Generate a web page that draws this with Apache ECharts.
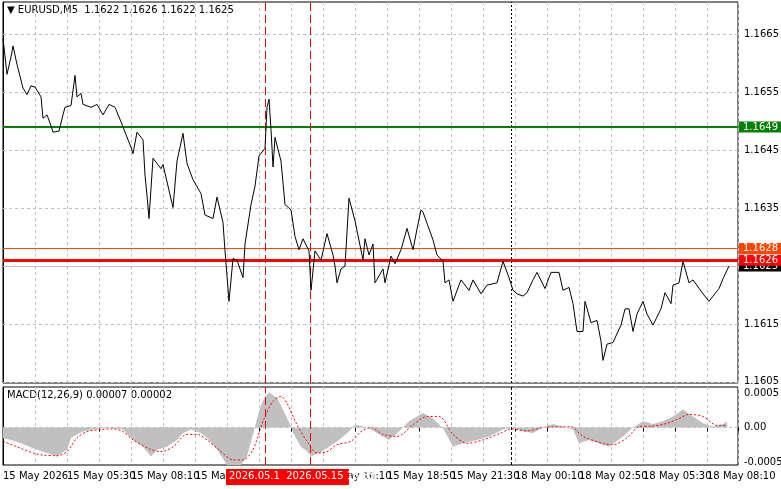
<!DOCTYPE html>
<html><head><meta charset="utf-8">
<script src="https://cdn.jsdelivr.net/npm/echarts@6/dist/echarts.min.js"></script>
<style>html,body{margin:0;padding:0;background:#fff}#c{width:781px;height:489px}</style>
</head><body><div id="c"></div>
<script>
// [bar index, close price]
const price = [[0,1.16643],[2,1.16581],[4,1.16611],[5,1.16630],[7,1.16598],[10,1.16557],[12,1.16546],[14,1.16561],[16,1.16559],[19,1.16542],[20,1.16505],[22,1.16511],[24,1.16492],[25,1.16481],[28,1.16483],[30,1.16511],[31,1.16524],[34,1.16527],[36,1.16579],[37,1.16542],[39,1.16548],[40,1.16529],[44,1.16524],[47,1.16529],[50,1.16511],[53,1.16529],[56,1.16524],[59,1.16499],[61,1.16481],[64,1.16455],[65,1.16444],[67,1.16481],[70,1.16468],[71,1.16407],[72,1.16371],[73,1.16332],[75,1.16436],[79,1.16418],[80,1.16425],[85,1.16351],[87,1.16431],[90,1.16479],[92,1.16427],[95,1.16399],[99,1.16375],[101,1.16338],[105,1.16332],[107,1.16369],[110,1.16325],[111,1.16276],[113,1.16189],[115,1.16263],[117,1.16260],[120,1.16230],[121,1.16288],[124,1.16356],[126,1.16388],[128,1.16440],[131,1.16453],[132,1.16524],[133,1.16538],[134,1.16486],[135,1.16421],[136,1.16472],[139,1.16431],[141,1.16356],[144,1.16347],[146,1.16301],[148,1.16278],[150,1.16297],[153,1.16276],[154,1.16208],[156,1.16276],[159,1.16260],[162,1.16306],[165,1.16269],[166,1.16250],[167,1.16221],[169,1.16245],[171,1.16250],[173,1.16367],[176,1.16328],[180,1.16260],[181,1.16297],[183,1.16269],[185,1.16288],[186,1.16221],[190,1.16245],[191,1.16221],[194,1.16267],[196,1.16254],[199,1.16278],[202,1.16315],[205,1.16278],[207,1.16314],[209,1.16347],[210,1.16343],[215,1.16295],[217,1.16269],[220,1.16258],[221,1.16221],[223,1.16226],[225,1.16189],[229,1.16226],[233,1.16208],[235,1.16226],[239,1.16202],[242,1.16217],[247,1.16221],[250,1.16258],[253,1.16230],[255,1.16208],[257,1.16202],[260,1.16198],[262,1.16204],[265,1.16226],[267,1.16239],[271,1.16211],[274,1.16239],[278,1.16239],[280,1.16208],[283,1.16213],[285,1.16185],[287,1.16137],[290,1.16137],[291,1.16189],[294,1.16152],[297,1.16156],[299,1.16120],[300,1.16087],[302,1.16115],[305,1.16118],[309,1.16148],[311,1.16176],[313,1.16176],[315,1.16137],[317,1.16167],[320,1.16189],[322,1.16167],[325,1.16148],[329,1.16176],[331,1.16204],[334,1.16185],[335,1.16217],[338,1.16221],[340,1.16258],[343,1.16221],[345,1.16226],[350,1.16202],[353,1.16189],[355,1.16198],[358,1.16211],[360,1.16228],[363,1.16250]];
const macdHist = [[0,-0.000155],[4,-0.00018],[9,-0.00023],[15,-0.0003],[22,-0.00037],[27,-0.00042],[32,-0.00032],[34,-0.00015],[37,-0.0001],[40,-0.00006],[45,-0.00003],[50,-0.00001],[55,-0.00001],[60,-0.00003],[65,-0.00018],[70,-0.00028],[74,-0.00042],[77,-0.00032],[82,-0.00028],[87,-0.00018],[90,-0.00008],[94,-0.00003],[99,-0.00008],[102,-0.00015],[107,-0.00032],[112,-0.00054],[115,-0.00059],[119,-0.00054],[122,-0.00042],[125,-0.0001],[128,0.00023],[130,0.0004],[133,0.00051],[137,0.00043],[140,0.00026],[144,0.00001],[145,-0.00008],[149,-0.00028],[152,-0.00035],[154,-0.00042],[158,-0.00037],[163,-0.00028],[168,-0.00018],[173,-0.00006],[176,0.00004],[179,0.00002],[184,-0.00003],[188,-0.0001],[193,-0.00018],[198,-0.00006],[203,0.00009],[210,0.00021],[215,0.00013],[220,-0.00001],[225,-0.00028],[230,-0.00023],[237,-0.00018],[243,-0.00013],[250,-0.00003],[254,0],[260,-0.00006],[265,-0.00008],[270,0],[275,0.00005],[280,0.00001],[285,-0.00003],[288,-0.00023],[293,-0.00018],[300,-0.00025],[303,-0.00028],[310,-0.00013],[315,0],[320,0.00009],[325,0.00005],[330,0.00009],[335,0.00016],[340,0.00026],[345,0.00016],[350,0.00006],[355,0.00001],[360,0.00005],[362,0.00009]];
const macdSignal = [[0,-0.0002],[7,-0.00028],[15,-0.00037],[20,-0.0004],[27,-0.00041],[32,-0.00035],[37,-0.00015],[42,-0.00006],[49,-0.00003],[55,-0.00002],[60,-0.00006],[65,-0.00018],[74,-0.00032],[79,-0.00035],[85,-0.00028],[92,-0.0001],[97,-0.0001],[102,-0.00018],[109,-0.00035],[115,-0.00047],[120,-0.00047],[125,-0.00032],[130,0.00009],[135,0.00038],[139,0.00045],[142,0.00035],[147,0.00004],[152,-0.0002],[157,-0.00037],[162,-0.00035],[167,-0.00025],[174,-0.0002],[179,-0.00006],[184,0],[190,-0.0001],[197,-0.00013],[205,0.00004],[212,0.00016],[218,0.00016],[225,-0.0001],[232,-0.00023],[240,-0.00018],[249,-0.00008],[254,-0.00002],[262,-0.00005],[270,0],[279,0.00001],[284,0.00001],[290,-0.00013],[300,-0.00023],[305,-0.00025],[312,-0.00015],[318,0.00001],[325,0.00002],[332,0.00006],[338,0.00013],[343,0.00019],[350,0.00016],[357,0.00003],[362,0.00003]];
const timeLabels = ["15 May 2026","15 May 05:30","15 May 08:10","15 May 10:50","15 May 13:30","15 May 16:10","15 May 18:50","15 May 21:30","18 May 00:10","18 May 02:50","18 May 05:30","18 May 08:10"];
const priceTicks = [1.1605,1.1615,1.1625,1.1635,1.1645,1.1655,1.1665];
const macdTicks = [-0.0005,0,0.0005];
const levels = [{v:1.1625,c:'#c0c0c0',w:1,t:'1.1625',bg:'#000'},{v:1.1649,c:'#008000',w:2,t:'1.1649'},{v:1.1628,c:'#ff4500',w:1,t:'1.1628'},{v:1.1626,c:'#ff0000',w:3,t:'1.1626'}];
const redTimes = [131,153.5];
const dottedTime = 254;

const F = 'Tahoma, "DejaVu Sans", sans-serif';
const X0 = 0, X1 = 367.5;
const dash = {color:'#c0c0c0',type:[3,3],width:1};
const hLine = (v, ls, lab) => [{coord:[X0,v],lineStyle:ls,label:lab},{coord:[X1,v]}];
const gridLab = (txt) => ({show:true,position:'end',distance:6,formatter:txt,color:'#000',fontSize:10,fontFamily:F});
const xBase = (gi, labels) => ({type:'value',gridIndex:gi,min:X0,max:X1,interval:16,
  axisLine:{show:false},axisTick:{show:labels,length:4,lineStyle:{color:'#000'}},
  axisLabel:{show:labels,align:'left',margin:6,fontSize:10,fontFamily:F,color:'#000',
    formatter:v=>(v%32===0?(timeLabels[v/32]||''):'')},
  splitLine:{show:true,lineStyle:dash}});
const yBase = (gi,min,max) => ({type:'value',gridIndex:gi,position:'right',min:min,max:max,
  axisLine:{show:true,lineStyle:{color:'#000'}},axisTick:{show:false},axisLabel:{show:false},splitLine:{show:false}});
const chart = echarts.init(document.getElementById('c'));
chart.setOption({
  animation:false,
  grid:[{left:3,right:43,top:2,bottom:106,show:true,borderColor:'#000',borderWidth:1},
        {left:3,right:43,top:387,bottom:24,show:true,borderColor:'#000',borderWidth:1}],
  xAxis:[xBase(0,false),xBase(1,true)],
  yAxis:[yBase(0,1.16048,1.167058),yBase(1,-0.000544,0.000587)],
  series:[
    {type:'line',xAxisIndex:0,yAxisIndex:0,data:price,showSymbol:false,lineStyle:{color:'#000',width:1},z:5,
      markLine:{symbol:'none',silent:true,animation:false,z:3,data:[
        ...priceTicks.map(v=>hLine(v,dash,gridLab(v.toFixed(4)))),
        ...levels.map(l=>hLine(l.v,{color:l.c,width:l.w,type:'solid'},
          {show:true,position:'end',formatter:l.t,distance:1,color:'#fff',backgroundColor:l.bg||l.c,padding:[1,4,0,4],fontSize:10,fontFamily:F})),
        ...redTimes.map(t=>({xAxis:t,lineStyle:{color:'#e00000',width:1,type:[8,4]},label:{show:false}})),
        {xAxis:dottedTime,lineStyle:{color:'#000',width:1,type:[2,2]},label:{show:false}}
      ]}},
    {type:'line',xAxisIndex:1,yAxisIndex:1,data:macdHist,showSymbol:false,lineStyle:{width:0},areaStyle:{color:'#c0c0c0',opacity:1},z:2,
      markLine:{symbol:'none',silent:true,animation:false,data:[
        ...macdTicks.map(v=>hLine(v, Math.abs(v)<1e-9?dash:{width:0,color:'transparent'}, gridLab(Math.abs(v)<1e-9?'0.00':v.toFixed(4)))),
        ...redTimes.map(t=>({xAxis:t,lineStyle:{color:'#e00000',width:1,type:[8,4]},label:{show:false}})),
        {xAxis:dottedTime,lineStyle:{color:'#000',width:1,type:[3,2]},label:{show:false}}]}},
    {type:'line',xAxisIndex:1,yAxisIndex:1,data:macdSignal,showSymbol:false,smooth:0.3,lineStyle:{color:'#ff0000',width:1,type:[2,2]},z:4}
  ],
  graphic:[
    {type:'text',left:7,top:5,style:{text:'▼ EURUSD,M5  1.1622 1.1626 1.1622 1.1625',fontSize:10,fontFamily:F,fill:'#000'}},
    {type:'text',left:7,top:390,style:{text:'MACD(12,26,9) 0.00007 0.00002',fontSize:10,fontFamily:F,fill:'#000'}},
    {type:'rect',shape:{x:226,y:469,width:123,height:16},style:{fill:'#ff0000'},z:10},
    {type:'text',left:229,top:471,z:11,style:{text:'2026.05.1  2026.05.15 15:35',fontSize:10,fontFamily:F,fill:'#fff'}}
  ]
});
</script></body></html>
